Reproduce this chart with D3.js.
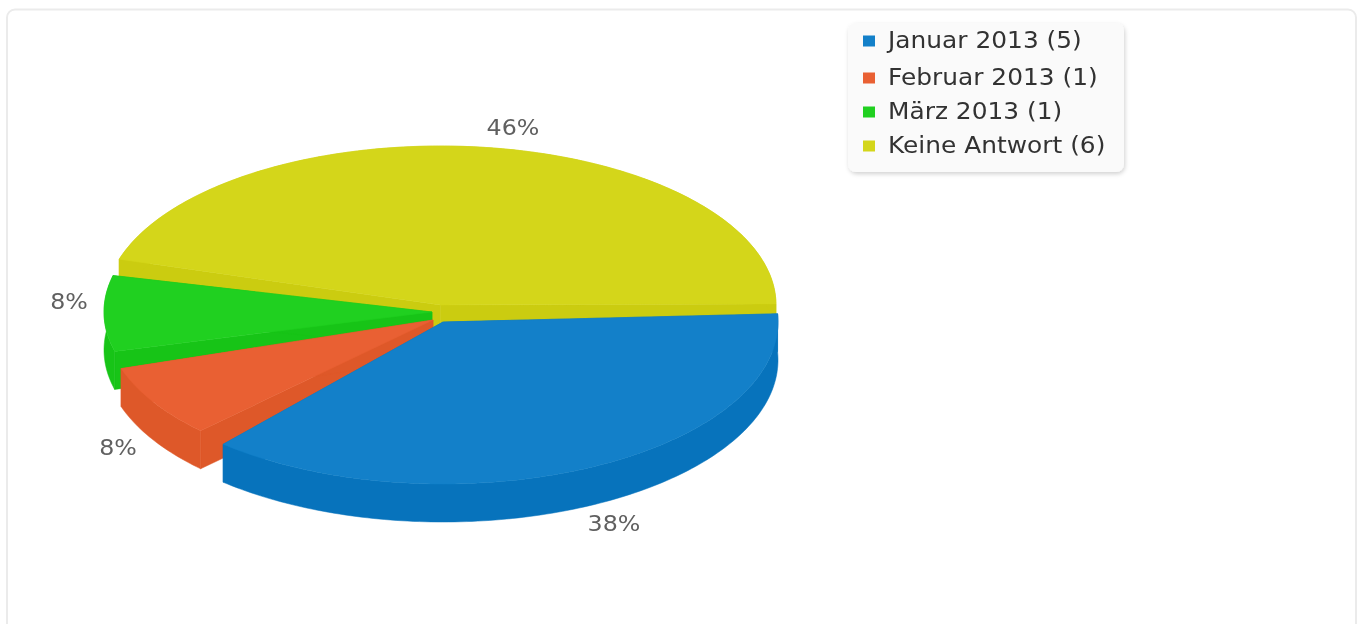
<!DOCTYPE html>
<html><head><meta charset="utf-8">
<script src="https://cdn.jsdelivr.net/npm/d3@7/dist/d3.min.js"></script>
<style>html,body{margin:0;padding:0;background:#fff;overflow:hidden}svg{display:block}text{font-family:"DejaVu Sans",sans-serif}</style>
</head><body><svg id="c" width="1363" height="624"></svg>
<script>
const categories=["Januar 2013","Februar 2013","März 2013","Keine Antwort"];
const counts=[5,1,1,6];
const percentLabels=["38%","8%","8%","46%"];
const topColors=["#1380c9","#e96033","#20d020","#d4d61a"];
const sideColors=["#0773bc","#de5829","#17c417","#cbcc10"];
const centersX=[443,433,432,440.5];
const centersY=[322,320,312,305];
const radiiX=[335,328,328,335.5];
const radiiY=[162,157,156,159];
const startNudgeDeg=[0,1,1.7,3.5];
const endNudgeDeg=[-0.4,1,3,5.2];
const labelX=[614,118,69,513];
const labelY=[531,455,309,135];
const legendY=[40,77,111,145];
const depth=38, rad=Math.PI/180;

const svg=d3.select("#c");
const defs=svg.append("defs");
const f=defs.append("filter").attr("id","sh").attr("x","-10%").attr("y","-10%").attr("width","120%").attr("height","125%");
f.append("feDropShadow").attr("dx",1).attr("dy",2).attr("stdDeviation",2).attr("flood-color","#000").attr("flood-opacity",.18);
const soft=defs.append("filter").attr("id","soft").attr("x","-5%").attr("y","-20%").attr("width","110%").attr("height","140%");
soft.append("feGaussianBlur").attr("stdDeviation",.5);

svg.append("rect").attr("x",7).attr("y",9.5).attr("width",1349).attr("height",640).attr("rx",8)
  .attr("fill","#fff").attr("stroke","#ebebeb").attr("stroke-width",2);

const pie=d3.pie().value(d=>d).sort(null).padAngle(2.7*rad).startAngle(87.1*rad).endAngle((87.1+360)*rad);
const arcs=pie(counts);
const line=d3.line();

function pts(i,a0,a1,dy){ // a in d3 convention: 0 at top, clockwise
  const n=Math.max(2,Math.ceil(Math.abs(a1-a0)/(rad)));
  return d3.range(n+1).map(k=>{const a=a0+(a1-a0)*k/n;
    return [centersX[i]+radiiX[i]*Math.sin(a),centersY[i]-radiiY[i]*Math.cos(a)+dy];});
}
const order=[3,2,1,0];
order.forEach(i=>{
  const a=arcs[i];
  const a0=a.startAngle+startNudgeDeg[i]*rad, a1=a.endAngle-a.padAngle+endNudgeDeg[i]*rad;
  const cx=centersX[i], cy=centersY[i];
  const g=svg.append("g");
  const side=(p)=>g.append("path").attr("d",line(p)+"Z").attr("fill",sideColors[i]).attr("stroke",sideColors[i]).attr("stroke-width",.5);
  [a0,a1].forEach(t=>{
    const e=pts(i,t,t,0)[0];
    side([[cx,cy],e,[e[0],e[1]+depth],[cx,cy+depth]]);
  });
  const topEdge=pts(i,a0,a1,0), botEdge=pts(i,a0,a1,depth).reverse();
  side(topEdge.concat(botEdge));
  g.append("path").attr("d",line([[cx,cy]].concat(topEdge))+"Z").attr("fill",topColors[i]).attr("stroke",topColors[i]).attr("stroke-width",.5);
});

percentLabels.forEach((t,i)=>{
  svg.append("text").attr("transform",`translate(${labelX[i]},${labelY[i]}) scale(1.08,1)`).attr("text-anchor","middle")
    .attr("font-size",22).attr("fill","#606060").attr("filter","url(#soft)").text(t);
});

svg.append("rect").attr("x",848).attr("y",23).attr("width",276).attr("height",149).attr("rx",8)
  .attr("fill","#fafafa").attr("filter","url(#sh)");
categories.forEach((c,i)=>{
  svg.append("rect").attr("x",863).attr("y",legendY[i]-4.5).attr("width",12).attr("height",11).attr("fill",topColors[i]);
  svg.append("text").attr("transform",`translate(888,${legendY[i]+7.5}) scale(1.058,1)`).attr("font-size",23.5).attr("fill","#333").attr("filter","url(#soft)")
    .text(`${c} (${counts[i]})`);
});
</script></body></html>
